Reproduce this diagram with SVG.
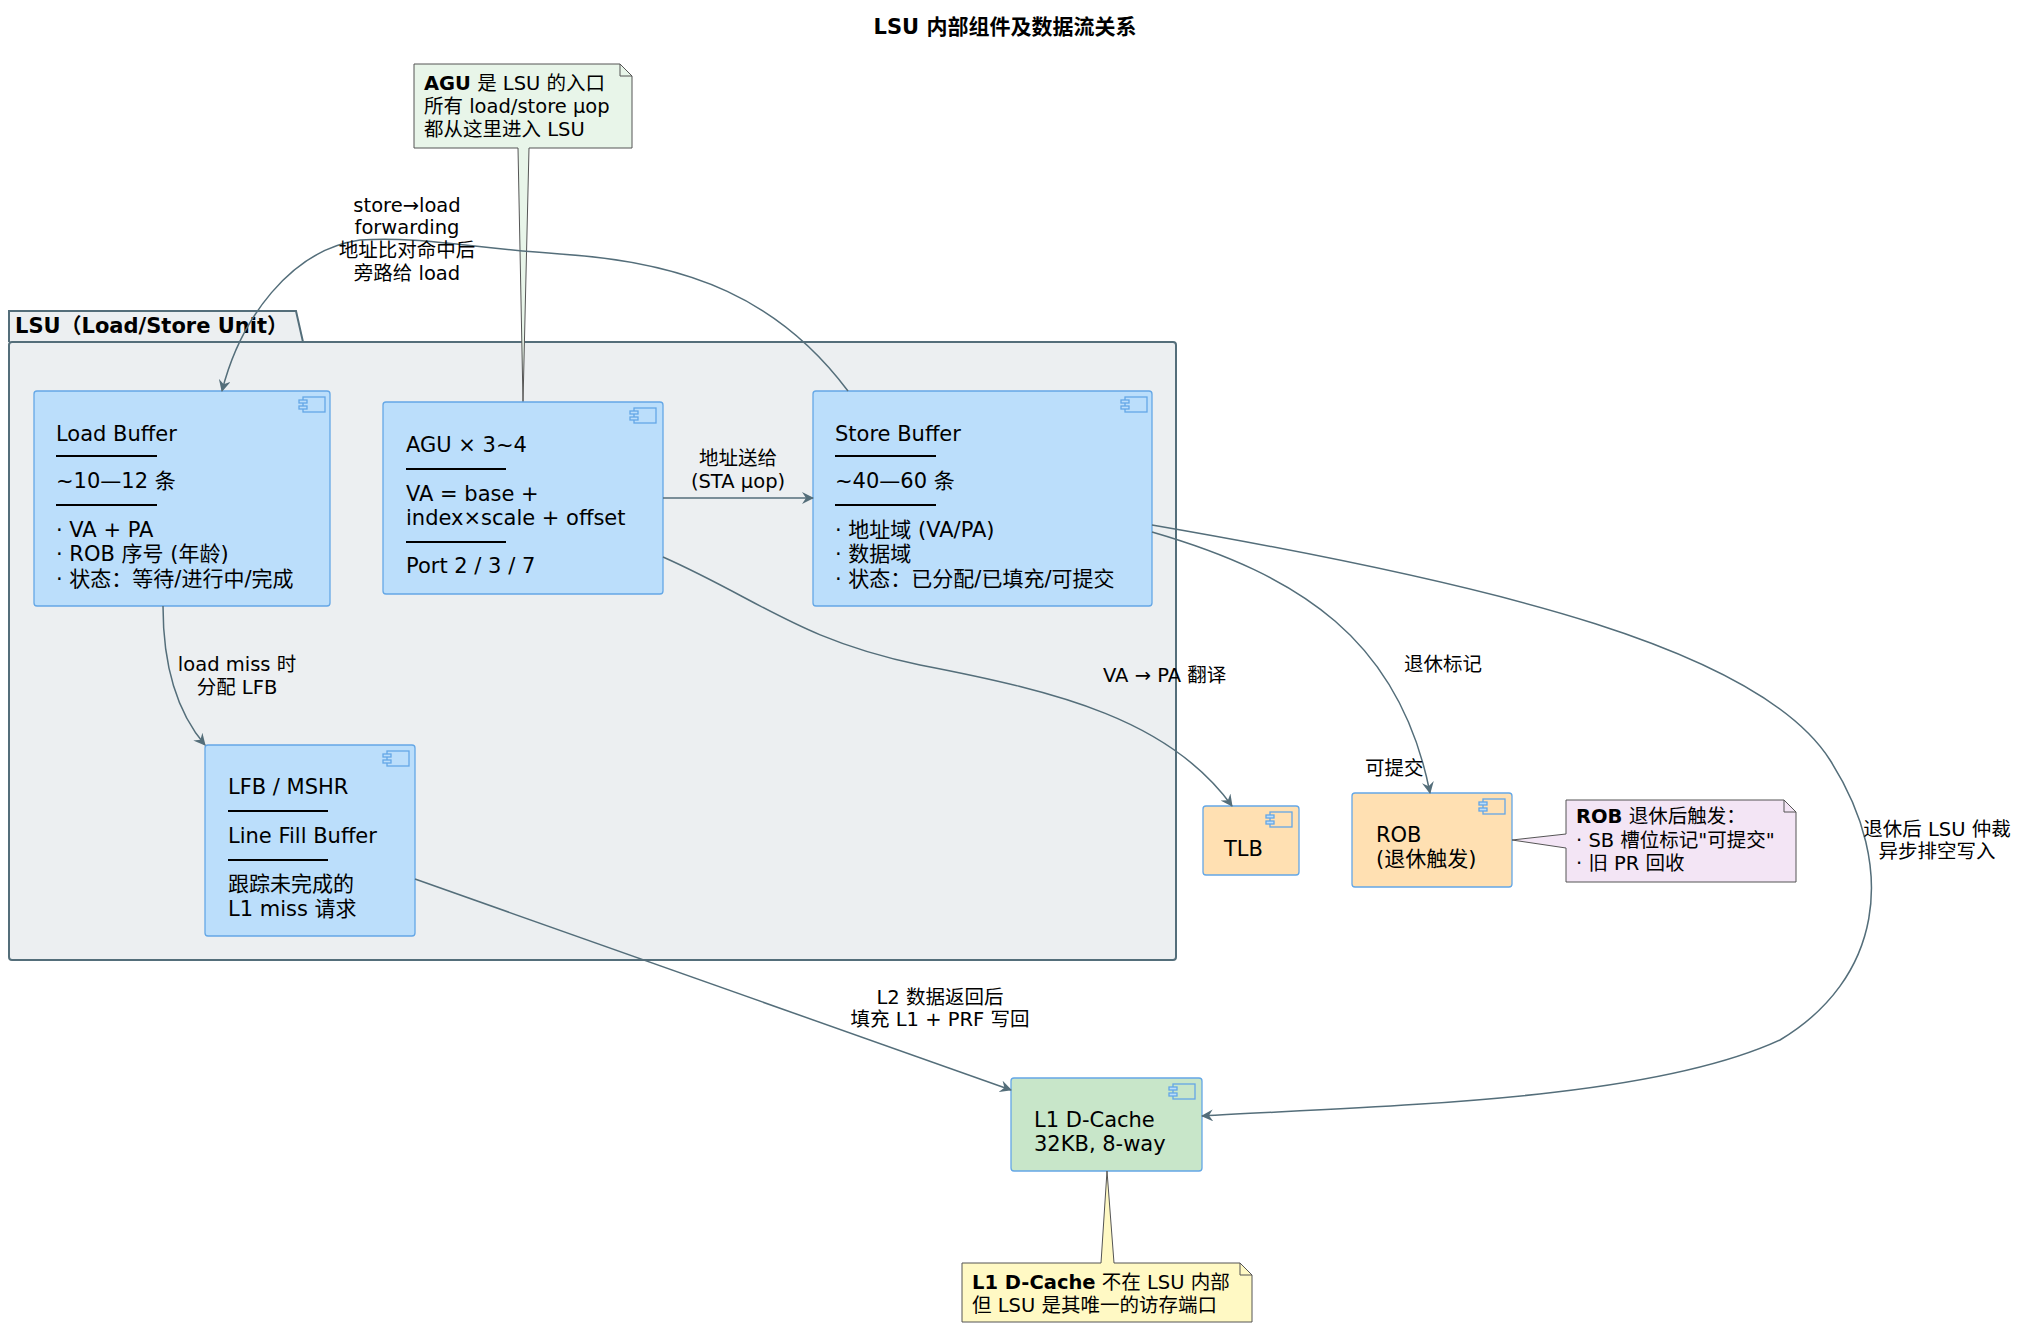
<svg xmlns="http://www.w3.org/2000/svg" width="2029" height="1332" viewBox="0 0 2029 1332">
<defs>
<style>
text{font-family:"DejaVu Sans","Noto Sans CJK SC",sans-serif;fill:#000}
.t{font-size:21px}
.l{font-size:19.5px}
.b{font-weight:bold}
.blue{fill:#BBDEFB;stroke:#64A7E6;stroke-width:1.3}
.org{fill:#FFE0B2;stroke:#64A7E6;stroke-width:1.3}
.grn{fill:#C8E6C9;stroke:#64A7E6;stroke-width:1.3}
.sep{stroke:#000;stroke-width:2}
.ic{fill:none;stroke:#64A7E6;stroke-width:1.3}
.icf{fill:#BBDEFB;stroke:#64A7E6;stroke-width:1.3}
.e{fill:none;stroke:#546E7A;stroke-width:1.5}
.note{stroke:#555;stroke-width:1}
</style>
<marker id="ar" viewBox="0 0 12 12" refX="11" refY="6" markerWidth="12" markerHeight="12" orient="auto" markerUnits="userSpaceOnUse">
<path d="M0,0 L12,6 L0,12 L4,6 Z" fill="#546E7A"/>
</marker>
<g id="icon"><rect x="0" y="0" width="22" height="15" class="ic"/><rect x="-4" y="3" width="8" height="3" class="icf"/><rect x="-4" y="9" width="8" height="3" class="icf"/></g>
</defs>
<rect width="2029" height="1332" fill="#fff"/>
<text x="1005" y="34" text-anchor="middle" class="b" style="font-size:21px">LSU 内部组件及数据流关系</text>

<g id="lsu">
<path d="M9,342 L9,311 L296,311 L303,342" fill="#ECEFF1" stroke="#546E7A" stroke-width="2"/>
<rect x="9" y="342" width="1167" height="618" rx="3" fill="#ECEFF1" stroke="#546E7A" stroke-width="2"/>
<text x="15" y="333" class="b" style="font-size:21px">LSU（Load/Store Unit）</text>
</g>

<g id="agu-note">
<path d="M414,64 L620,64 L632,76 L632,148 L529,148 L523,402 L518,148 L414,148 Z" fill="#E8F5E9" class="note"/>
<path d="M620,64 L620,76 L632,76" fill="none" class="note"/>
<text x="424" y="90" class="l"><tspan class="b">AGU</tspan> 是 LSU 的入口</text>
<text x="424" y="113" class="l">所有 load/store µop</text>
<text x="424" y="136" class="l">都从这里进入 LSU</text>
</g>

<g id="load-buffer">
<rect x="34" y="391" width="296" height="215" rx="3" class="blue"/>
<use href="#icon" x="303" y="397"/>
<text x="56" y="441" class="t">Load Buffer</text>
<line x1="56" y1="456" x2="157" y2="456" class="sep"/>
<text x="56" y="488" class="t">~10—12 条</text>
<line x1="56" y1="505" x2="157" y2="505" class="sep"/>
<text x="56" y="537" class="t">· VA + PA</text>
<text x="56" y="561" class="t">· ROB 序号 (年龄)</text>
<text x="56" y="586" class="t">· 状态：等待/进行中/完成</text>
</g>

<g id="agu">
<rect x="383" y="402" width="280" height="192" rx="3" class="blue"/>
<use href="#icon" x="634" y="408"/>
<text x="406" y="452" class="t">AGU × 3~4</text>
<line x1="406" y1="469" x2="506" y2="469" class="sep"/>
<text x="406" y="501" class="t">VA = base +</text>
<text x="406" y="525" class="t">index×scale + offset</text>
<line x1="406" y1="542" x2="506" y2="542" class="sep"/>
<text x="406" y="573" class="t">Port 2 / 3 / 7</text>
</g>

<g id="store-buffer">
<rect x="813" y="391" width="339" height="215" rx="3" class="blue"/>
<use href="#icon" x="1125" y="397"/>
<text x="835" y="441" class="t">Store Buffer</text>
<line x1="835" y1="456" x2="936" y2="456" class="sep"/>
<text x="835" y="488" class="t">~40—60 条</text>
<line x1="835" y1="505" x2="936" y2="505" class="sep"/>
<text x="835" y="537" class="t">· 地址域 (VA/PA)</text>
<text x="835" y="561" class="t">· 数据域</text>
<text x="835" y="586" class="t">· 状态：已分配/已填充/可提交</text>
</g>

<g id="lfb">
<rect x="205" y="745" width="210" height="191" rx="3" class="blue"/>
<use href="#icon" x="387" y="751"/>
<text x="228" y="794" class="t">LFB / MSHR</text>
<line x1="228" y1="811" x2="328" y2="811" class="sep"/>
<text x="228" y="843" class="t">Line Fill Buffer</text>
<line x1="228" y1="860" x2="328" y2="860" class="sep"/>
<text x="228" y="891" class="t">跟踪未完成的</text>
<text x="228" y="916" class="t">L1 miss 请求</text>
</g>

<g id="tlb">
<rect x="1203" y="806" width="96" height="69" rx="3" class="org"/>
<use href="#icon" x="1270" y="812"/>
<text x="1224" y="856" class="t">TLB</text>
</g>

<g id="rob">
<rect x="1352" y="793" width="160" height="94" rx="3" class="org"/>
<use href="#icon" x="1483" y="799"/>
<text x="1376" y="842" class="t">ROB</text>
<text x="1376" y="866" class="t">(退休触发)</text>
</g>

<g id="rob-note">
<path d="M1566,800 L1784,800 L1796,812 L1796,882 L1566,882 L1566,848 L1512,840 L1566,834 Z" fill="#F3E5F5" class="note"/>
<path d="M1784,800 L1784,812 L1796,812" fill="none" class="note"/>
<text x="1576" y="823" class="l"><tspan class="b">ROB</tspan> 退休后触发：</text>
<text x="1576" y="847" class="l">· SB 槽位标记"可提交"</text>
<text x="1576" y="870" class="l">· 旧 PR 回收</text>
</g>

<g id="l1">
<rect x="1011" y="1078" width="191" height="93" rx="3" class="grn"/>
<use href="#icon" x="1173" y="1084"/>
<text x="1034" y="1127" class="t">L1 D-Cache</text>
<text x="1034" y="1151" class="t">32KB, 8-way</text>
</g>

<g id="l1-note">
<path d="M962,1263 L1101,1263 L1107,1171 L1114,1263 L1240,1263 L1252,1275 L1252,1322 L962,1322 Z" fill="#FFF9C4" class="note"/>
<path d="M1240,1263 L1240,1275 L1252,1275" fill="none" class="note"/>
<text x="972" y="1289" class="l"><tspan class="b">L1 D-Cache</tspan> 不在 LSU 内部</text>
<text x="972" y="1312" class="l">但 LSU 是其唯一的访存端口</text>
</g>

<g id="connectors">
<path class="e" marker-end="url(#ar)" d="M848,391 C780,300 690,262 560,254 C470,248 420,236 360,240 C290,250 240,320 222,391"/>
<text x="407" y="212" class="l" text-anchor="middle">store→load</text>
<text x="407" y="234" class="l" text-anchor="middle">forwarding</text>
<text x="407" y="257" class="l" text-anchor="middle">地址比对命中后</text>
<text x="407" y="280" class="l" text-anchor="middle">旁路给 load</text>

<path class="e" marker-end="url(#ar)" d="M663,498 L813,498"/>
<text x="738" y="465" class="l" text-anchor="middle">地址送给</text>
<text x="738" y="488" class="l" text-anchor="middle">(STA µop)</text>

<path class="e" marker-end="url(#ar)" d="M663,557 C760,600 800,640 920,665 C1060,692 1170,720 1232,806"/>
<text x="1103" y="682" class="l">VA → PA 翻译</text>

<path class="e" marker-end="url(#ar)" d="M1152,532 C1300,575 1400,640 1430,793"/>
<text x="1404" y="671" class="l">退休标记</text>
<text x="1365" y="775" class="l">可提交</text>

<path class="e" marker-end="url(#ar)" d="M1152,525 C1500,585 1760,650 1830,760 C1900,870 1880,980 1780,1040 C1650,1100 1400,1105 1202,1116"/>
<text x="1937" y="836" class="l" text-anchor="middle">退休后 LSU 仲裁</text>
<text x="1937" y="858" class="l" text-anchor="middle">异步排空写入</text>

<path class="e" marker-end="url(#ar)" d="M163,606 C163,660 175,710 205,745"/>
<text x="237" y="671" class="l" text-anchor="middle">load miss 时</text>
<text x="237" y="694" class="l" text-anchor="middle">分配 LFB</text>

<path class="e" marker-end="url(#ar)" d="M415,879 L1011,1090"/>
<text x="940" y="1004" class="l" text-anchor="middle">L2 数据返回后</text>
<text x="940" y="1026" class="l" text-anchor="middle">填充 L1 + PRF 写回</text>
</g>
</svg>
